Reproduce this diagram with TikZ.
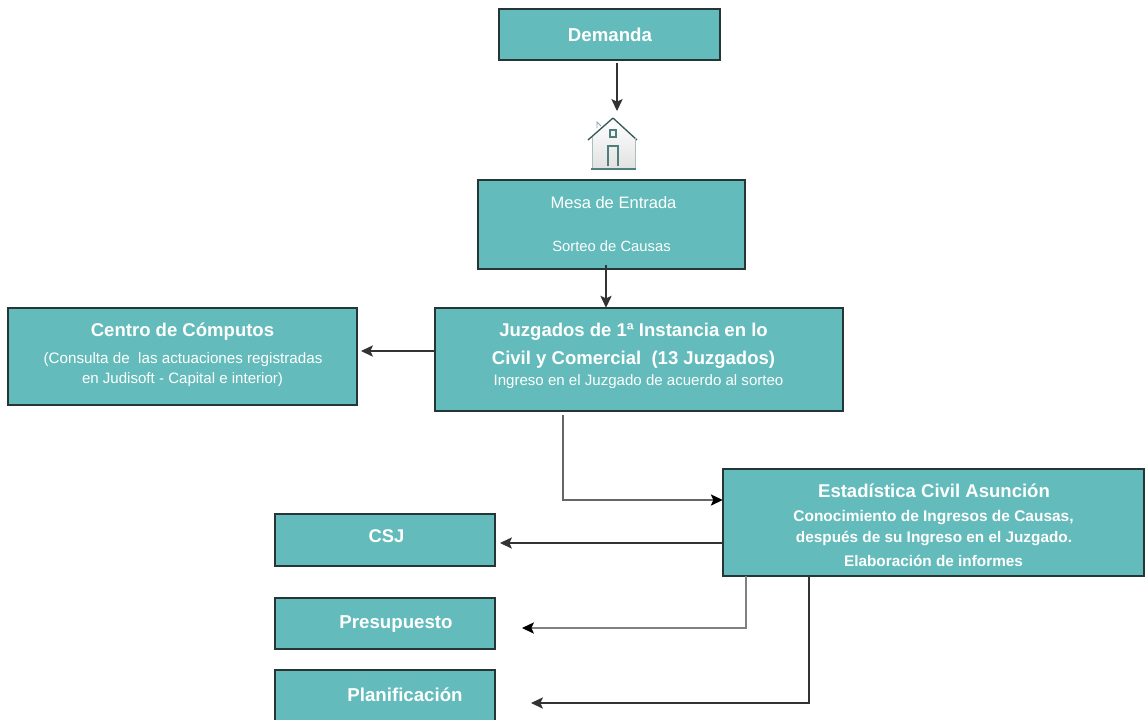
\documentclass[tikz,border=0pt]{standalone}
\usepackage{fontspec}
\setmainfont{Liberation Sans}
\usetikzlibrary{arrows.meta,calc}
\definecolor{tealfill}{HTML}{63BBBB}
\definecolor{edge}{HTML}{263636}
\definecolor{houseline}{HTML}{4F7F7C}
\tikzset{
  x=0.75pt,y=-0.75pt,
  tealbox/.style={draw=edge,line width=1.4pt,fill=tealfill,inner sep=0pt,outer sep=0pt},
  boxtext/.style={text=white,align=center,inner sep=0pt,font=\fontsize{#1}{#1}\selectfont},
  boxtext/.default=9,
  conn/.style={draw=black!80,line width=0.8pt,-{Stealth[length=9pt,width=8.5pt,inset=2pt]}},
  connlight/.style={conn,draw=black!#1,-{Stealth[black,length=9pt,width=8.5pt,inset=2pt]}},
}
\newcommand{\tbox}[5]{% name, x1, y1, x2, y2
  \node[tealbox,minimum width=#4*0.75pt-#2*0.75pt+0.4pt,minimum height=#5*0.75pt-#3*0.75pt+0.4pt,anchor=center] (#1) at ({(#2+#4)/2},{(#3+#5)/2}) {};}
\begin{document}
\begin{tikzpicture}
\useasboundingbox (0,0) rectangle (1145,719);
\begin{scope}
\clip (0,0) rectangle (1145,719);
\tbox{demanda}{499}{9}{720}{60}
\tbox{mesa}{478}{180}{745}{269}
\tbox{centro}{8}{308}{357}{405}
\tbox{juzgados}{435}{308}{843}{411}
\tbox{estadistica}{723}{469}{1144}{576}
\tbox{csj}{275}{514}{495}{566}
\tbox{presupuesto}{275}{598}{495}{649}
\tbox{planificacion}{275}{670}{495}{735}
\end{scope}

\node[boxtext=14] (tdemanda) at (610,35) {\textbf{Demanda}};
\node[boxtext=12.4] (tmesa1) at (613.5,203) {Mesa de Entrada};
\node[boxtext=11.1] (tmesa2) at (611.5,246) {Sorteo de Causas};
\node[boxtext=13.9] (tcentro1) at (182.5,332) {\textbf{Centro de Cómputos}};
\node[boxtext=11.4] (tcentro2) at (183,359.5) {(Consulta de\ \ las actuaciones registradas};
\node[boxtext=11.3] (tcentro3) at (182.5,380) {en Judisoft - Capital e interior)};
\node[boxtext=13.9] (tjuz1) at (633.5,332) {\textbf{Juzgados de 1ª Instancia en lo}};
\node[boxtext=13.9] (tjuz2) at (633.5,359.5) {\textbf{Civil y Comercial\ \ (13 Juzgados)}};
\node[boxtext=11.3] (tjuz3) at (638.5,382) {Ingreso en el Juzgado de acuerdo al sorteo};
\node[boxtext=13.9] (test1) at (934,491) {\textbf{Estadística Civil Asunción}};
\node[boxtext=11.6] (test2) at (933.5,517.5) {\textbf{Conocimiento de Ingresos de Causas,}};
\node[boxtext=11.5] (test3) at (934,538.5) {\textbf{después de su Ingreso en el Juzgado.}};
\node[boxtext=11.5] (test4) at (933.5,561) {\textbf{Elaboración de informes}};
\node[boxtext=13.8] (tcsj) at (386.5,536) {\textbf{CSJ}};
\node[boxtext=14] (tpres) at (396,623.5) {\textbf{Presupuesto}};
\node[boxtext=14] (tplan) at (405,695) {\textbf{Planificación}};

% house icon
\node[inner sep=0pt,minimum width=37.5pt,minimum height=40pt] (house) at (613,144) {};
\shade[top color=white,bottom color=black!12] (592,137) -- (613,119) -- (635,137) -- (635,170) -- (592,170) -- cycle;
\draw[houseline!70!black,line width=1pt,line join=round] (588,140) -- (613,118) -- (637,140);
\draw[houseline!50,line width=0.6pt] (592,137) -- (592,168);
\draw[houseline!50,line width=0.6pt] (635,137) -- (635,168);
\draw[houseline,line width=0.9pt] (608,166) -- (608,146) -- (618,146) -- (618,166);
\draw[houseline,line width=1pt] (610,130) rectangle (616,137);
\draw[houseline!70,line width=0.7pt] (597,128) -- (597,122) -- (601,126);
\draw[houseline,line width=1.4pt] (591,169) -- (636,169);

% free ends of the connectors and their bends
\coordinate (a1e) at (617,111);
\coordinate (a2x) at (606,290);
\coordinate (a3e) at (361,351);
\coordinate (a4m) at (563,500);
\coordinate (a5e) at (500,543);
\coordinate (a6m) at (746,628);
\coordinate (a6e) at (522,628);
\coordinate (a7m) at (809,703);
\coordinate (a7e) at (531,703);

% connectors
\draw[conn,shorten <=2.2pt] (demanda.south -| a1e) -- (a1e);
\draw[conn,shorten <=-3pt] (mesa.south -| a2x) -- (juzgados.north -| a2x);
\draw[conn] (juzgados.west |- a3e) -- (a3e);
\draw[connlight=60,shorten <=3pt] (juzgados.south -| a4m) -- (a4m) -- (a4m -| estadistica.west);
\draw[conn] (estadistica.west |- a5e) -- (a5e);
\draw[connlight=50] (estadistica.south -| a6m) -- (a6m) -- (a6e);
\draw[conn] (estadistica.south -| a7m) -- (a7m) -- (a7e);
\end{tikzpicture}
\end{document}
